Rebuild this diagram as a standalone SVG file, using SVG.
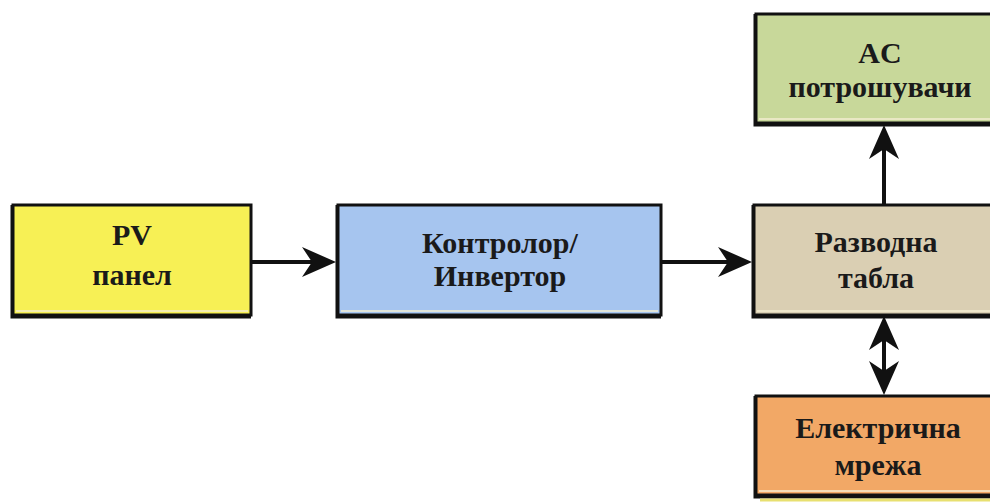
<svg xmlns="http://www.w3.org/2000/svg" width="990" height="503" viewBox="0 0 990 503">
<style>
.box{stroke:#111;stroke-width:3}
.shadow{fill:none;stroke:#111;stroke-width:3}
.hl{fill:none;stroke:#f4eed2;stroke-width:1.5}
.t{font-family:"Liberation Serif","Times New Roman",serif;font-weight:bold;font-size:30px;fill:#1a1a1a;text-anchor:middle}
.con{fill:none;stroke:#111;stroke-width:4}
</style>
<defs>
<marker id="ah" markerUnits="userSpaceOnUse" markerWidth="34" markerHeight="30" refX="13" refY="15" orient="auto-start-reverse">
<path d="M0,0 L34,15 L0,30 L10,15 Z" fill="#111"/>
</marker>
</defs>
<rect width="990" height="503" fill="#fff"/>
<g id="pv">
<rect class="box" x="13" y="205" width="238" height="110" fill="#f7f055"/>
<path class="shadow" d="M12,205 V317 H251"/>
<line class="hl" x1="16" y1="311" x2="248" y2="311"/>
<text class="t" x="132" y="245">PV</text>
<text class="t" x="132" y="285">панел</text>
</g>
<g id="controller">
<rect class="box" x="338" y="205" width="323" height="110" fill="#a6c5ef"/>
<path class="shadow" d="M337,205 V317 H661"/>
<line class="hl" x1="341" y1="311" x2="658" y2="311"/>
<text class="t" x="500" y="253">Контролор/</text>
<text class="t" x="500" y="286">Инвертор</text>
</g>
<g id="ac">
<rect class="box" x="756" y="14" width="260" height="109" fill="#c8d89a"/>
<path class="shadow" d="M755,14 V125 H1016"/>
<line class="hl" x1="759" y1="119" x2="1016" y2="119"/>
<text class="t" x="880" y="63">AC</text>
<text class="t" x="880" y="97">потрошувачи</text>
</g>
<g id="panel">
<rect class="box" x="754" y="205" width="260" height="110" fill="#dacfb3"/>
<path class="shadow" d="M753,205 V317 H1014"/>
<line class="hl" x1="757" y1="311" x2="1014" y2="311"/>
<text class="t" x="876" y="252">Разводна</text>
<text class="t" x="876" y="288">табла</text>
</g>
<g id="grid">
<rect class="box" x="756" y="396" width="260" height="99" fill="#f2a866"/>
<path class="shadow" d="M755,396 V497 H1016"/>
<line class="hl" x1="759" y1="491" x2="1016" y2="491"/>
<line x1="760" y1="500" x2="1016" y2="500" stroke="#e8e070" stroke-width="3"/>
<text class="t" x="878" y="438">Електрична</text>
<text class="t" x="878" y="475">мрежа</text>
</g>
<g id="connectors">
<line class="con" x1="252" y1="262" x2="315" y2="262" marker-end="url(#ah)"/>
<line class="con" x1="662" y1="262" x2="731" y2="262" marker-end="url(#ah)"/>
<line class="con" x1="884" y1="204" x2="884" y2="146" marker-end="url(#ah)"/>
<line class="con" x1="884" y1="337" x2="884" y2="374" marker-start="url(#ah)" marker-end="url(#ah)"/>
</g>
</svg>
